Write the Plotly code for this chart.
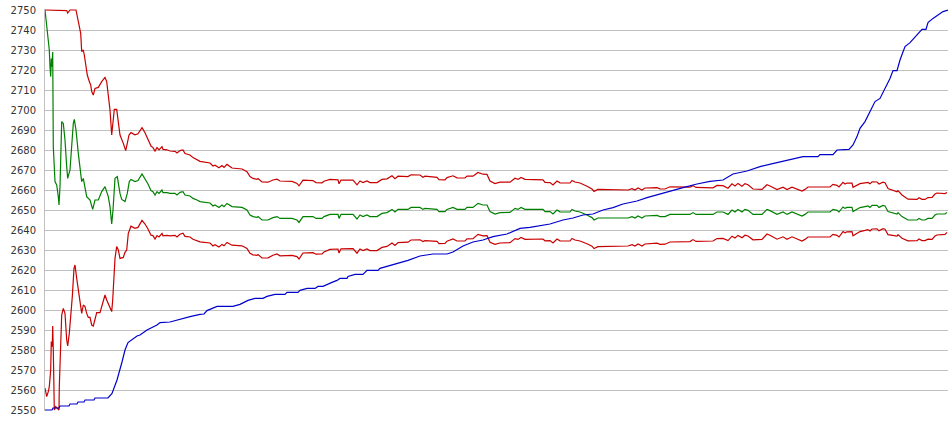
import plotly.graph_objects as go

# ---------------- data (time index, price) ----------------
y_ticks = list(range(2550, 2751, 10))

# rising (blue) series
t_rise = [0, 7, 8, 14, 15, 24, 25, 32, 33, 39, 40, 49, 50, 63, 67, 72, 77, 80, 83, 87, 92, 95, 102, 112,
          115, 125, 135, 145, 155, 159, 162, 167, 172, 188, 195, 203, 210, 218, 222, 230, 240, 242, 253,
          255, 262, 270, 273, 278, 282, 287, 292, 295, 302, 303, 310, 318, 322, 333, 335, 342, 347, 355,
          363, 375, 388, 402, 408, 418, 428, 438, 448, 462, 475, 485, 495, 505, 518, 528, 538, 548, 558,
          568, 578, 592, 602, 615, 625, 638, 652, 665, 678, 688, 702, 715, 732, 745, 758, 773, 775, 788,
          792, 804, 808, 812, 815, 820, 825, 830, 835, 840, 845, 848, 852, 855, 860, 865, 873, 877, 881,
          883, 888, 893, 898, 903]
rise = [2550, 2550, 2551, 2551, 2552, 2552, 2553, 2553, 2554, 2554, 2555, 2555, 2556, 2556, 2558.3, 2565,
        2574, 2580, 2583.7, 2585.3, 2587, 2587.5, 2590, 2592.5, 2593.7, 2594, 2595.5, 2596.7, 2597.8, 2598,
        2599.7, 2600.8, 2601.8, 2601.8, 2602.8, 2604.8, 2605.8, 2605.8, 2606.8, 2607.8, 2607.8, 2608.8,
        2608.8, 2609.8, 2610.8, 2610.8, 2611.8, 2611.8, 2612.8, 2613.8, 2614.8, 2615.8, 2615.8, 2616.8,
        2617.8, 2617.8, 2619.8, 2619.8, 2620.8, 2621.8, 2622.8, 2623.8, 2624.8, 2627, 2628, 2628, 2629,
        2632, 2634, 2635, 2636.7, 2638, 2640.8, 2641.3, 2642, 2643, 2645, 2646, 2647.5, 2648, 2650, 2651.2,
        2653, 2654.5, 2656.2, 2658, 2659.7, 2661.2, 2663, 2664.3, 2665, 2668, 2669.5, 2671.7, 2673.7,
        2675.3, 2676.7, 2676.7, 2677.7, 2677.7, 2680, 2680.3, 2682.5, 2686.7, 2690.8, 2694.2, 2699.2,
        2704.2, 2705.8, 2710.8, 2715.8, 2719.7, 2719.7, 2725, 2731.7, 2733.7, 2738.3, 2740.3, 2740.3,
        2743.7, 2745.8, 2747.5, 2749.2, 2750]

# early (volatile) part of the three band series
t_mid_early = [0, 2.3, 3.3, 4.3, 5, 5.7, 6.3, 7, 7.7, 8.3, 10, 11.7, 13.3, 14, 15, 16, 16.7, 18.3, 20, 21.7,
               22.7, 25, 26.7, 28.3, 29.3, 31, 33.3, 35, 36.7, 38.3, 40, 41.7, 45, 47.7, 50, 53.3, 56.7,
               60, 63.3, 65, 66.7, 68, 70, 72.3, 75, 76.7, 80, 82.3, 84.3]
mid_early = [2750, 2740, 2736.7, 2730, 2721.7, 2716.7, 2725.8, 2721.7, 2729, 2681.7, 2664.2, 2662.5, 2656.7,
             2652.5, 2661.7, 2680, 2694.2, 2693.3, 2685, 2671.7, 2665.8, 2670, 2683.3, 2693.3, 2695.3, 2690,
             2678.3, 2671.7, 2664.2, 2665.8, 2661.7, 2656.7, 2655, 2650.3, 2655, 2655, 2659.2, 2661.7,
             2656.7, 2651.7, 2643, 2650, 2665.8, 2666.7, 2658.3, 2655.3, 2654.2, 2658.3, 2664.2]

t_upper_early = [0, 20, 21.7, 22.7, 25, 31, 32.3, 34.3, 35.7, 36.7, 38.3, 39.3, 41, 42.3, 44.3, 45.7, 46.7,
                 48.3, 50, 53.3, 56.7, 60, 61.7, 63.3, 65, 66.7, 67.7, 69.3, 71.7, 73.3, 75, 78.3, 80.7,
                 82.3, 84]
upper_early = [2750, 2750, 2749.7, 2748.5, 2750, 2750, 2746.7, 2742.5, 2738.3, 2729.2, 2730, 2727.5, 2721.7,
               2717.5, 2714.2, 2712.5, 2709.2, 2707.5, 2710.8, 2711.3, 2714.2, 2716.3, 2714.2, 2708.3, 2700,
               2687.5, 2691.7, 2700.3, 2700.3, 2694.2, 2687.5, 2683.3, 2679.7, 2683.3, 2687.5]

t_lower_early = [0, 1.7, 3.3, 4.3, 5.7, 6.3, 7.3, 7.7, 8.3, 9.3, 10.7, 12.5, 14, 14.3, 15.7, 16.7, 18.3, 20,
                 21.7, 22.7, 24.3, 26, 27.3, 29, 30, 31.7, 33.3, 35, 36.7, 38.3, 40, 41.7, 43.3, 45, 46.7,
                 48.3, 50, 51.7, 55, 56.7, 60, 61.7, 65, 66.7, 67.7, 69, 70, 71.7, 73.3, 75, 78.3, 80, 81.7,
                 83.3, 85]
lower_early = [2561, 2556.7, 2559.2, 2561.7, 2570, 2584.2, 2581.7, 2592, 2580, 2550, 2551.7, 2550.8, 2550,
               2561.7, 2584.2, 2597.5, 2600.8, 2598.3, 2585, 2582, 2588.3, 2596.7, 2606.7, 2620.8, 2622.5,
               2615.8, 2610.8, 2603.3, 2598.3, 2602.5, 2601.7, 2598.3, 2596.3, 2596.3, 2592.5, 2592, 2595,
               2598.7, 2598.7, 2601.7, 2607.5, 2605, 2601.3, 2599.2, 2605, 2617.5, 2625.8, 2631.7, 2630,
               2625.8, 2626.3, 2628.8, 2630, 2638.3, 2640.8]

# settled part of the band series (shared time index)
t_band = [86, 90, 93, 97, 100, 103, 106, 108, 110, 112, 114, 117, 118, 122, 125, 130, 132, 135, 138, 140,
          145, 148, 152, 155, 165, 168, 170, 174, 177, 179, 182, 187, 197, 202, 205, 208, 212, 213, 217,
          223, 228, 232, 235, 247, 252, 254, 258, 268, 271, 277, 279, 285, 293, 294, 296, 308, 312, 315,
          318, 322, 325, 332, 337, 342, 347, 350, 353, 363, 366, 375, 378, 380, 392, 394, 400, 402, 408,
          412, 420, 422, 428, 433, 438, 442, 445, 450, 455, 465, 470, 473, 476, 480, 498, 500, 505, 508,
          512, 515, 525, 527, 530, 535, 542, 547, 549, 553, 583, 587, 590, 593, 597, 600, 612, 615, 620,
          625, 645, 648, 651, 668, 672, 678, 683, 687, 690, 693, 697, 700, 703, 708, 717, 722, 725, 732,
          738, 742, 747, 753, 757, 760, 763, 785, 788, 792, 794, 798, 800, 802, 807, 808, 812, 815, 820,
          823, 825, 827, 832, 834, 838, 840, 843, 848, 852, 853, 857, 863, 872, 874, 877, 880, 883, 887,
          890, 892, 900, 902]
mid_band = [2665.3, 2664.2, 2664.7, 2668, 2665.8, 2663, 2659.7, 2659.2, 2657.5, 2659.2, 2658.3, 2660, 2658.7,
            2658.7, 2658.3, 2658.3, 2657.5, 2658.8, 2659.2, 2657.5, 2657, 2655.8, 2655, 2654.2, 2653.5, 2652,
            2652.5, 2651.3, 2652.5, 2651.7, 2653.3, 2651.7, 2651.3, 2650, 2647.5, 2646.7, 2646.3, 2646.7,
            2645, 2645, 2646.2, 2646.7, 2645.8, 2645.8, 2645, 2643.8, 2646.7, 2646.7, 2645.8, 2645.8, 2646.7,
            2647.8, 2647.8, 2645.8, 2647.8, 2647.8, 2645.5, 2647.5, 2646.7, 2647.5, 2646.7, 2646.7, 2648.3,
            2648.7, 2650.3, 2649, 2650.3, 2650.3, 2651.3, 2651.3, 2650.3, 2650.8, 2650.3, 2649.2, 2649.2,
            2650.3, 2651.3, 2650.3, 2650.3, 2651.3, 2651.3, 2653.3, 2652.5, 2652.5, 2649.2, 2648, 2648.7,
            2648.8, 2650.8, 2650.3, 2651.3, 2650.3, 2650.3, 2649.2, 2649.2, 2648, 2650, 2649.1, 2649, 2650.3,
            2649.5, 2649, 2647.5, 2646.2, 2645, 2646, 2646, 2646.7, 2646, 2647, 2646, 2647, 2647.3, 2646.7,
            2646.7, 2647.8, 2647.8, 2648.7, 2647.8, 2647.8, 2649, 2649, 2647.8, 2650, 2649, 2650.3, 2649,
            2650.3, 2649.8, 2647.8, 2647.8, 2650.3, 2649.7, 2647.8, 2649, 2647.8, 2649, 2647.8, 2647, 2647.8,
            2649, 2649, 2650.3, 2649.8, 2649, 2651.5, 2650.8, 2651.3, 2651.3, 2649.2, 2650.3, 2651.2, 2651.7,
            2652, 2651.3, 2652.3, 2652.3, 2651.3, 2652.3, 2652, 2649.2, 2648.7, 2648, 2648.7, 2646.7, 2645,
            2645, 2645.8, 2645, 2645, 2645.8, 2645.8, 2647.5, 2648, 2648, 2648.8]
upper_band = [2688.7, 2687.6, 2688.1, 2691.2, 2688.6, 2685.5, 2682.0, 2681.2, 2679.5, 2681.2, 2680.1, 2681.7,
              2680.3, 2680.1, 2679.5, 2679.3, 2678.5, 2679.7, 2680.0, 2678.2, 2677.5, 2676.2, 2675.3, 2674.3,
              2673.5, 2672, 2672.4, 2671.1, 2672.2, 2671.3, 2672.8, 2671.0, 2670.5, 2669.2, 2666.7, 2665.8,
              2665.3, 2665.7, 2664, 2663.9, 2665, 2665.4, 2664.5, 2664.3, 2663.3, 2662.1, 2664.9, 2664.7,
              2663.7, 2663.6, 2664.4, 2665.3, 2665.1, 2663.1, 2665, 2664.9, 2662.6, 2664.5, 2663.7, 2664.5,
              2663.7, 2663.7, 2665.3, 2665.6, 2667.1, 2665.7, 2666.9, 2666.7, 2667.6, 2667.5, 2666.4, 2666.9,
              2666.3, 2665.2, 2665.1, 2666.2, 2667.1, 2666.1, 2666, 2667, 2666.9, 2668.8, 2667.9, 2667.8,
              2664.5, 2663.2, 2663.9, 2663.9, 2665.9, 2665.3, 2666.3, 2665.3, 2665.1, 2663.8, 2663.7, 2662.5,
              2664.5, 2663.6, 2663.5, 2664.8, 2664, 2663.5, 2661.9, 2660.5, 2659.3, 2660.3, 2660, 2660.7,
              2660, 2661, 2660, 2661, 2661.2, 2660.6, 2660.5, 2661.6, 2661.4, 2662.2, 2661.3, 2661.1, 2662.3,
              2662.2, 2660.9, 2663.1, 2662, 2663.3, 2661.9, 2663.2, 2662.6, 2660.5, 2660.3, 2662.6, 2662,
              2660.2, 2661.4, 2660.2, 2661.4, 2660.2, 2659.5, 2660.3, 2661.5, 2661.5, 2662.8, 2662.3, 2661.5,
              2663.8, 2663, 2663.5, 2663.4, 2661.3, 2662.3, 2663.2, 2663.6, 2663.8, 2663.1, 2664.1, 2664,
              2663, 2663.9, 2663.6, 2660.7, 2660, 2659.1, 2659.7, 2657.5, 2655.4, 2655.3, 2656.1, 2655.3,
              2655.3, 2656.2, 2656.3, 2658, 2658.5, 2658.2, 2658.8]
lower_band = [2641.9, 2640.8, 2641.3, 2644.8, 2643.0, 2640.5, 2637.4, 2637.2, 2635.5, 2637.2, 2636.5, 2638.3,
              2637.1, 2637.3, 2637.1, 2637.3, 2636.5, 2637.9, 2638.4, 2636.8, 2636.5, 2635.4, 2634.7, 2634.1,
              2633.5, 2632, 2632.6, 2631.5, 2632.8, 2632.1, 2633.8, 2632.4, 2632.1, 2630.8, 2628.3, 2627.6,
              2627.3, 2627.7, 2626, 2626.1, 2627.4, 2628, 2627.1, 2627.3, 2626.7, 2625.5, 2628.5, 2628.7,
              2627.9, 2628, 2629, 2630.3, 2630.5, 2628.5, 2630.6, 2630.7, 2628.4, 2630.5, 2629.7, 2630.5,
              2629.7, 2629.7, 2631.3, 2631.8, 2633.5, 2632.3, 2633.7, 2633.9, 2635, 2635.1, 2634.2, 2634.7,
              2634.3, 2633.2, 2633.3, 2634.4, 2635.5, 2634.5, 2634.6, 2635.6, 2635.7, 2637.8, 2637.1, 2637.2,
              2633.9, 2632.8, 2633.5, 2633.7, 2635.7, 2635.3, 2636.3, 2635.3, 2635.5, 2634.6, 2634.7, 2633.5,
              2635.5, 2634.6, 2634.5, 2635.8, 2635, 2634.5, 2633.1, 2631.9, 2630.7, 2631.7, 2632, 2632.7,
              2632, 2633, 2632, 2633, 2633.4, 2632.8, 2632.9, 2634, 2634.2, 2635.2, 2634.3, 2634.5, 2635.7,
              2635.8, 2634.7, 2636.9, 2636, 2637.3, 2636.1, 2637.4, 2637, 2635.1, 2635.3, 2638, 2637.4,
              2635.4, 2636.6, 2635.4, 2636.6, 2635.4, 2634.5, 2635.3, 2636.5, 2636.5, 2637.8, 2637.3, 2636.5,
              2639.2, 2638.6, 2639.1, 2639.2, 2637.1, 2638.3, 2639.2, 2639.8, 2640.2, 2639.5, 2640.5, 2640.6,
              2639.6, 2640.7, 2640.4, 2637.7, 2637.4, 2636.9, 2637.7, 2635.9, 2634.6, 2634.7, 2635.5, 2634.7,
              2634.7, 2635.4, 2635.3, 2637, 2637.5, 2637.8, 2638.8]

for name, a, b in [("rise", t_rise, rise), ("mid_e", t_mid_early, mid_early),
                   ("up_e", t_upper_early, upper_early), ("lo_e", t_lower_early, lower_early),
                   ("mid", t_band, mid_band), ("up", t_band, upper_band), ("lo", t_band, lower_band)]:
    assert len(a) == len(b), (name, len(a), len(b))

RED = "#C80000"
GREEN = "#008000"
BLUE = "#0000CC"
FONT = "DejaVu Sans, Verdana, sans-serif"

fig = go.Figure()
fig.add_trace(go.Scatter(x=t_upper_early + t_band, y=upper_early + upper_band, mode="lines",
                         line=dict(color=RED, width=1.2), hoverinfo="skip"))
fig.add_trace(go.Scatter(x=t_lower_early + t_band, y=lower_early + lower_band, mode="lines",
                         line=dict(color=RED, width=1.2), hoverinfo="skip"))
fig.add_trace(go.Scatter(x=t_mid_early + t_band, y=mid_early + mid_band, mode="lines",
                         line=dict(color=GREEN, width=1.2), hoverinfo="skip"))
fig.add_trace(go.Scatter(x=t_rise, y=rise, mode="lines",
                         line=dict(color=BLUE, width=1.2), hoverinfo="skip"))

fig.update_layout(
    width=950, height=435,
    margin=dict(l=45, r=2, t=9, b=24, pad=0),
    paper_bgcolor="white", plot_bgcolor="white",
    showlegend=False,
    font=dict(family=FONT, size=10, color="#333333"),
    xaxis=dict(range=[0, 903], showgrid=False, zeroline=False, showticklabels=False,
               showline=False, fixedrange=True),
    yaxis=dict(range=[2549.5, 2750.5], tickvals=y_ticks, ticktext=[str(v) for v in y_ticks],
               showgrid=True, gridcolor="#C0C0C0", gridwidth=1, zeroline=False,
               showline=True, linecolor="#C0C0C0", linewidth=1, ticks="",
               ticklabelstandoff=6, fixedrange=True,
               tickfont=dict(family=FONT, size=10, color="#333333")),
)

# remove the default page margin so the figure sits at the window's top-left corner
fig.write_html("out.html", config={"displayModeBar": False},
               post_script="document.body.style.margin='0';document.body.style.overflow='hidden';")
